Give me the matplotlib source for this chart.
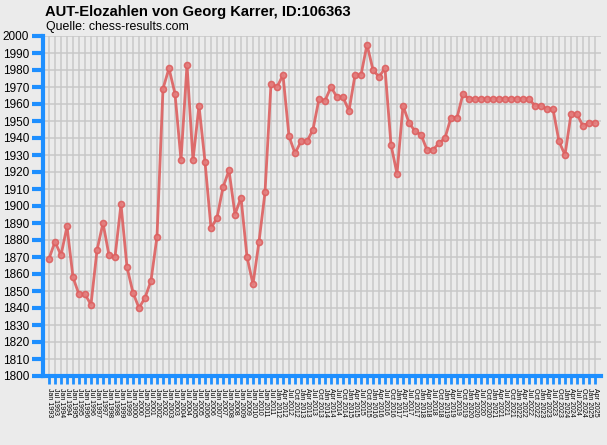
import matplotlib
matplotlib.use("Agg")
import matplotlib.pyplot as plt

plt.rcParams['font.family'] = ['Liberation Sans', 'DejaVu Sans']

# rating list dates: half-yearly until 2011, quarterly afterwards
half_years = list(range(1993, 2012))
quarter_years = list(range(2012, 2026))
dates = [m + " " + str(y) for y in half_years for m in ("Jan", "Jul")]
dates += [m + " " + str(y) for y in quarter_years for m in ("Jan", "Apr", "Jul", "Oct")]

elo = [1869, 1879, 1871, 1888, 1858, 1848, 1848, 1842, 1874, 1890,
       1871, 1870, 1901, 1864, 1849, 1840, 1846, 1856, 1882, 1969,
       1981, 1966, 1927, 1983, 1927, 1959, 1926, 1887, 1893, 1911,
       1921, 1895, 1905, 1870, 1854, 1879, 1908, 1972, 1970, 1977,
       1941, 1931, 1938, 1938, 1945, 1963, 1962, 1970, 1964, 1964,
       1956, 1977, 1977, 1995, 1980, 1976, 1981, 1936, 1919, 1959,
       1949, 1944, 1942, 1933, 1933, 1937, 1940, 1952, 1952, 1966,
       1963, 1963, 1963, 1963, 1963, 1963, 1963, 1963, 1963, 1963,
       1963, 1959, 1959, 1957, 1957, 1938, 1930, 1954, 1954, 1947,
       1949, 1949]
dates = dates[:len(elo)]

y_ticks = list(range(1800, 2001, 10))

bg = "#ebebeb"
blue = "#1e8fff"
red = "#dd5f5f"

fig = plt.figure(figsize=(6.07, 4.45), dpi=100, facecolor=bg)
ax = fig.add_axes([43/607, 1 - 376/445, 558/607, 340/445], facecolor=bg)

xs = list(range(len(elo)))
ax.plot(xs, elo, color=red, lw=2.0, alpha=0.9, marker="o", ms=4.3,
        mfc="#e37f7f", mec=red, mew=1.2, zorder=3)

ax.set_xlim(-1, len(elo))
ax.set_ylim(1800, 2000)
ax.set_yticks(y_ticks)
ax.set_xticks(xs)
ax.set_xticklabels(dates, rotation=270, fontsize=5, va="top", ha="center")
ax.tick_params(axis="y", colors=blue, length=8, width=3, labelsize=8.5,
               labelcolor="black", pad=2)
ax.tick_params(axis="x", colors=blue, length=6, width=2,
               labelcolor="black", pad=3)

ax.grid(True, color="#c8c8c8", lw=1.1)
ax.set_axisbelow(True)
for s in ("top", "right"):
    ax.spines[s].set_visible(False)
for s in ("left", "bottom"):
    ax.spines[s].set_color(blue)
    ax.spines[s].set_linewidth(3)

fig.text(45/607, 1 - 12/445, "AUT-Elozahlen von Georg Karrer, ID:106363",
         fontsize=10.6, fontweight="bold", va="center", ha="left")
fig.text(46/607, 1 - 27/445, "Quelle: chess-results.com",
         fontsize=8.9, va="center", ha="left")

fig.savefig("out.png", dpi=100, facecolor=bg)
